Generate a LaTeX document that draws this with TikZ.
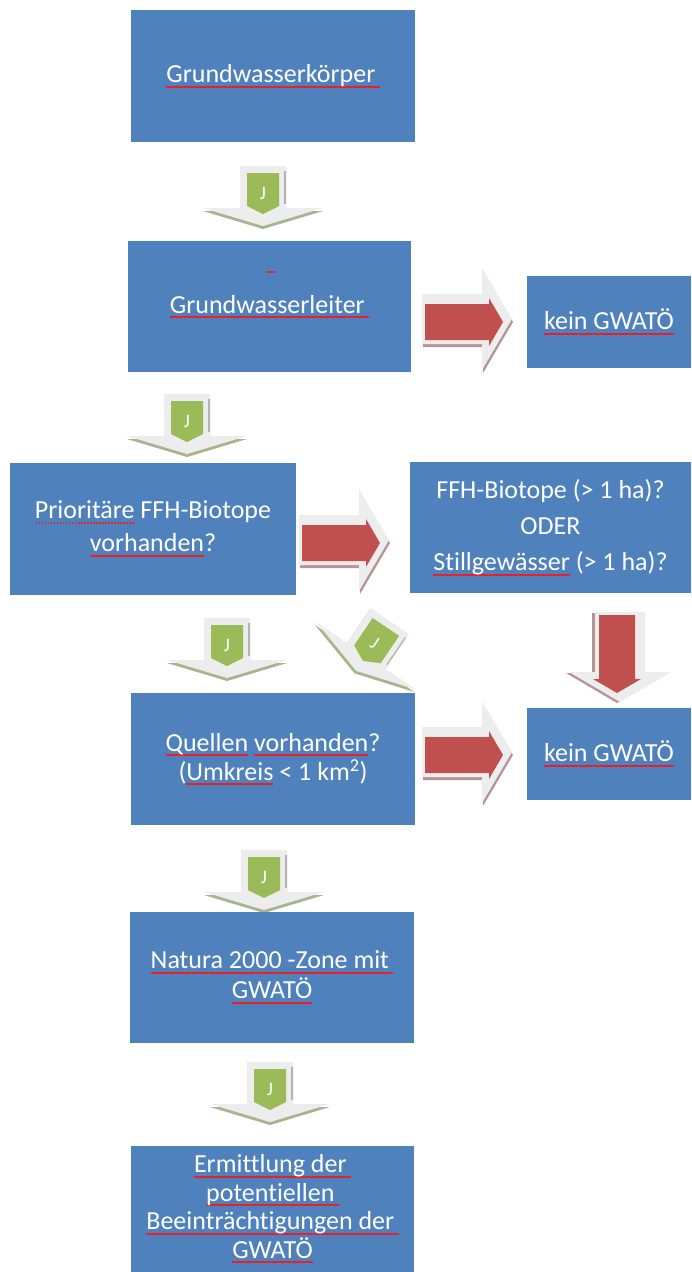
\documentclass[tikz,border=0pt]{standalone}
\usepackage{fontspec}
\setmainfont{Carlito}[Ligatures=NoCommon]
\definecolor{boxblue}{HTML}{4F81BD}
\definecolor{agreen}{HTML}{9BBB59}
\definecolor{ared}{HTML}{C0504D}
\definecolor{lightgrey}{HTML}{EDEDED}
\definecolor{gshadow}{HTML}{A9B48E}
\definecolor{rshadow}{HTML}{B59495}
\definecolor{greyline}{HTML}{B4B4B4}
\definecolor{ulred}{HTML}{E8202A}
\newsavebox\rulbox
\newcommand\rul[1]{\sbox\rulbox{#1}\rlap{\textcolor{ulred}{\rule[-5pt]{\wd\rulbox}{2pt}}}\usebox\rulbox}
\newcommand\rdot[1]{\sbox\rulbox{#1}\rlap{\textcolor{ulred}{\xleaders\hbox to 3pt{\hss\rule[-5pt]{1.6pt}{2pt}\hss}\hskip\wd\rulbox}}\usebox\rulbox}
\tikzset{
  box/.style={fill=boxblue, text=white, align=center, inner sep=0pt,
    font=\fontsize{26}{32}\selectfont},
  garrow/.pic={
    \fill[gshadow, shift={(0,-3)}] (-23,30) -- (23,30) -- (23,-12) -- (60,-12) -- (0,-30) -- (-60,-12) -- (-23,-12) -- cycle;
    \fill[lightgrey] (-23,30) -- (23,30) -- (23,-12) -- (60,-12) -- (0,-30) -- (-60,-12) -- (-23,-12) -- cycle;
    \draw[greyline, line width=1.2pt] (22,25) -- (22,-8);
    \fill[agreen] (-16,23) -- (16,23) -- (16,-10) -- (0,-18) -- (-16,-10) -- cycle;
    \node[text=white, font=\fontsize{19}{19}\selectfont, transform shape, inner sep=0pt] at (0,3) {J};
  },
  rarrow/.pic={
    \fill[rshadow, shift={(1,-3)}] (-45,25) -- (15,25) -- (15,51) -- (45,0) -- (15,-51) -- (15,-25) -- (-45,-25) -- cycle;
    \fill[lightgrey] (-45,25) -- (15,25) -- (15,51) -- (45,0) -- (15,-51) -- (15,-25) -- (-45,-25) -- cycle;
    \fill[ared] (-42,15) -- (22,15) -- (22,21) -- (36,-3) -- (22,-27) -- (22,-21) -- (-42,-21) -- cycle;
  }
}
\begin{document}
\begin{tikzpicture}[x=1pt, y=1pt]
\fill[white] (0,0) rectangle (691,-1272);
\useasboundingbox (0,0) rectangle (691,-1272);
% block arrows
\pic at (263,-196) {garrow};
\pic at (187,-424) {garrow};
\pic at (227,-648) {garrow};
\pic[rotate=-34] at (373,-646) {garrow};
\pic at (264,-880) {garrow};
\pic at (270,-1092) {garrow};
\pic at (467,-319) {rarrow};
\pic at (344,-540) {rarrow};
\pic at (467,-752) {rarrow};
\pic[rotate=-90] at (620,-657) {rarrow};
% boxes
\node[box, minimum width=284pt, minimum height=132pt] (b1) at (273,-76) {\rul{Grundwasserkörper\,}};
\node[box, minimum width=283pt, minimum height=131pt] (b2) at (269.5,-306.5) {\rul{Grundwasserleiter\,}};
\node[box, minimum width=164pt, minimum height=92pt] (b3) at (609,-322) {\rul{kein GWATÖ}};
\node[box, minimum width=286pt, minimum height=132pt, font=\fontsize{26}{33}\selectfont] (b4) at (153,-529) {\rdot{Prioritäre} FFH-Biotope\\\rul{vorhanden}?};
\node[box, minimum width=281pt, minimum height=131pt, font=\fontsize{26}{36}\selectfont] (b5) at (550.5,-527.5) {FFH-Biotope (> 1 ha)?\\ODER\\\rul{Stillgewässer} (> 1 ha)?};
\node[box, minimum width=284pt, minimum height=132pt, font=\fontsize{26}{29}\selectfont] (b6) at (273,-759) {\rul{Quellen} \rul{vorhanden}?\\(\rul{Umkreis} < 1 km\textsuperscript{2})};
\node[box, minimum width=164pt, minimum height=92pt] (b7) at (609,-754) {\rul{kein GWATÖ}};
\node[box, minimum width=284pt, minimum height=131pt, font=\fontsize{26}{30}\selectfont] (b8) at (272,-977.5) {\rul{Natura 2000 -Zone mit\,}\\\rul{GWATÖ}};
\node[box, minimum width=283pt, minimum height=126pt, font=\fontsize{26}{28.5}\selectfont] (b9) at (272.5,-1209) {\rul{Ermittlung der\,}\\\rul{potentiellen\,}\\\rul{Beeinträchtigungen der\,}\\\rul{GWATÖ}};
\draw[ulred, line width=2pt] ([shift={(-3,35)}]b2.center) -- ([shift={(5,35)}]b2.center);
\end{tikzpicture}
\end{document}
